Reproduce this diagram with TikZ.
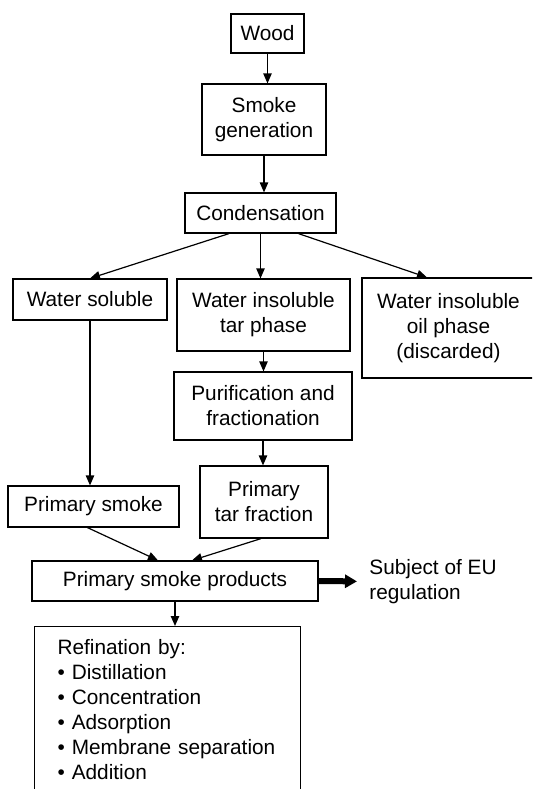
\documentclass[tikz,border=0pt]{standalone}
\usepackage{fontspec}
\setmainfont{Liberation Sans}
\usetikzlibrary{arrows.meta}
\begin{document}
\begin{tikzpicture}[
   x=0.5pt, y=-0.5pt,
   every node/.style={font=\fontsize{10.4}{12.5}\selectfont, inner sep=0pt, align=center},
   box/.style={draw, line width=0.6pt},
   flow/.style={line width=0.6pt, -{Triangle[length=5pt,width=4.2pt]}},
   bigflow/.style={line width=3pt, -{Triangle[length=6pt,width=6.5pt]}, shorten >=6pt}]

\clip (0,0) rectangle (532,789);

\node[box, minimum width=36.5pt, minimum height=19.5pt] (wood) at (267.5,33.5) {Wood};
\node[box, minimum width=62pt, minimum height=35.5pt] (smoke) at (264,119.5) {Smoke\\generation};
\node[box, minimum width=75.5pt, minimum height=20pt] (cond) at (260.5,213) {Condensation};

\node[box, minimum width=77pt, minimum height=20.5pt] (soluble) at (90,299.5) {Water soluble};
\node[box, minimum width=86.5pt, minimum height=36pt] (tar) at (263.5,315) {Water insoluble\\tar phase};
\node[box, minimum width=86.5pt, minimum height=50pt] (oil) at (448.5,328) {Water insoluble\\oil phase\\(discarded)};

\node[box, minimum width=89pt, minimum height=34pt] (purif) at (263,406) {Purification and\\fractionation};
\node[box, minimum width=64pt, minimum height=36pt] (tarfrac) at (264,502) {Primary\\tar fraction};
\node[box, minimum width=85.5pt, minimum height=20.5pt] (primsmoke) at (93.5,506.5) {Primary smoke};

\node[box, minimum width=143pt, minimum height=20pt] (products) at (175,581) {Primary smoke products};
\node[align=left, anchor=west] (eu) at (369,581.5) {Subject of EU\\regulation};

\node[box, anchor=north west, align=left, text width=110pt,
      inner xsep=11.5pt, inner ysep=6.5pt] (refin) at (34,626)
   {Refination by:\\
    \textbullet{} Distillation\\
    \textbullet{} Concentration\\
    \textbullet{} Adsorption\\
    \textbullet{} Membrane separation\\
    \textbullet{} Addition};

\draw[flow] (wood.south) -- (wood.south |- smoke.north);
\draw[flow] (smoke.south) -- (smoke.south |- cond.north);
\draw[flow] ([xshift=-15.75pt]cond.south) -- (soluble.north);
\draw[flow] (cond.south) -- (cond.south |- tar.north);
\draw[flow] ([xshift=19pt]cond.south) -- ([xshift=-10.75pt]oil.north);
\draw[flow] (soluble.south) -- (soluble.south |- primsmoke.north);
\draw[flow] (tar.south) -- (tar.south |- purif.north);
\draw[flow] (purif.south) -- (purif.south |- tarfrac.north);
\draw[flow] ([xshift=-3pt]primsmoke.south) -- ([xshift=-8.5pt]products.north);
\draw[flow] ([xshift=-1.5pt]tarfrac.south) -- ([xshift=8.5pt]products.north);
\draw[flow] (products.south) -- (products.south |- refin.north);
\draw[bigflow] (products.east) -- (eu.west);

\end{tikzpicture}
\end{document}
